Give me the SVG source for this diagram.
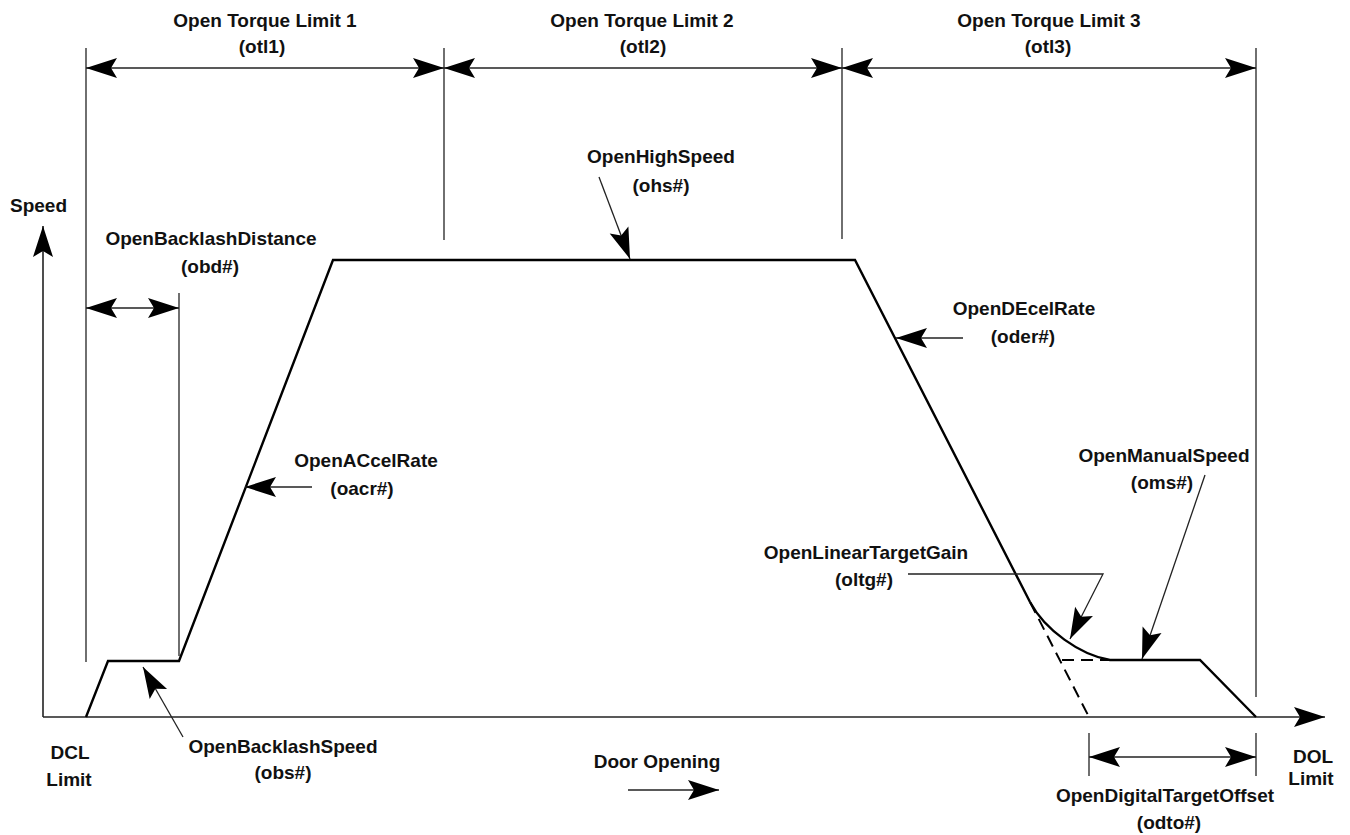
<svg xmlns="http://www.w3.org/2000/svg" width="1350" height="835" viewBox="0 0 1350 835">
<style>
  text { font-family: "Liberation Sans", Arial, sans-serif; font-weight: bold; font-size: 19px; fill: #111; text-anchor: middle; }
  .thin { stroke: #222; stroke-width: 1.3; fill: none; }
  .axis { stroke: #222; stroke-width: 1.6; fill: none; }
  .profile { stroke: #000; stroke-width: 2.4; fill: none; stroke-linejoin: miter; }
  .dash { stroke: #000; stroke-width: 2; fill: none; stroke-dasharray: 12 7; }
  .arr { marker-end: url(#ah); }
  .dim { marker-start: url(#ah); marker-end: url(#ah); }
</style>
<defs>
  <marker id="ah" viewBox="-34 -12 36 24" refX="0" refY="0" markerWidth="36" markerHeight="24" markerUnits="userSpaceOnUse" orient="auto-start-reverse" overflow="visible">
    <path d="M0,0 L-31,-10 L-25,0 L-31,10 Z" fill="#000"/>
  </marker>
</defs>

<g id="axes">
  <line class="axis arr" x1="43" y1="717" x2="43" y2="226"/>
  <line class="axis arr" x1="43" y1="717" x2="1325" y2="717"/>
  <text x="10" y="212" style="text-anchor:start">Speed</text>
  <text x="70" y="759">DCL</text>
  <text x="69" y="786">Limit</text>
  <text x="1313" y="763">DOL</text>
  <text x="1311" y="785">Limit</text>
</g>

<g id="extension-lines">
  <line class="thin" x1="86" y1="48" x2="86" y2="662"/>
  <line class="thin" x1="444" y1="48" x2="444" y2="240"/>
  <line class="thin" x1="842" y1="48" x2="842" y2="239"/>
  <line class="thin" x1="1256" y1="48" x2="1256" y2="697"/>
  <line class="thin" x1="179" y1="293" x2="179" y2="656"/>
  <line class="thin" x1="1089" y1="733" x2="1089" y2="776"/>
  <line class="thin" x1="1256" y1="733" x2="1256" y2="776"/>
</g>

<g id="profile">
  <polyline class="profile" points="86,717 108,661 179,661 333,260 855,260 1030,602"/>
  <path class="profile" d="M1030,602 C1045,630 1080,655 1110,660 L1200,660 L1256,717"/>
  <line class="dash" x1="1030" y1="602" x2="1089" y2="717"/>
  <line class="dash" x1="1062" y1="660" x2="1110" y2="660"/>
</g>

<g id="otl1">
  <text x="265" y="27">Open Torque Limit 1</text>
  <text x="262" y="53">(otl1)</text>
</g>
<g id="otl2">
  <text x="642" y="27">Open Torque Limit 2</text>
  <text x="643" y="53">(otl2)</text>
</g>
<g id="otl3">
  <text x="1049" y="27">Open Torque Limit 3</text>
  <text x="1048" y="53">(otl3)</text>
</g>
<g id="obd">
  <text x="211" y="245">OpenBacklashDistance</text>
  <text x="210" y="273">(obd#)</text>
</g>
<g id="obs">
  <text x="283" y="753">OpenBacklashSpeed</text>
  <text x="283" y="779">(obs#)</text>
</g>
<g id="oacr">
  <text x="366" y="467">OpenACcelRate</text>
  <text x="362" y="495">(oacr#)</text>
</g>
<g id="ohs">
  <text x="661" y="163">OpenHighSpeed</text>
  <text x="661" y="192">(ohs#)</text>
</g>
<g id="oder">
  <text x="1024" y="315">OpenDEcelRate</text>
  <text x="1023" y="343">(oder#)</text>
</g>
<g id="oms">
  <text x="1164" y="462">OpenManualSpeed</text>
  <text x="1162" y="489">(oms#)</text>
</g>
<g id="oltg">
  <text x="866" y="559">OpenLinearTargetGain</text>
  <text x="864" y="586">(oltg#)</text>
</g>
<g id="odto">
  <text x="1165" y="802">OpenDigitalTargetOffset</text>
  <text x="1169" y="829">(odto#)</text>
</g>
<g id="door">
  <text x="657" y="768">Door Opening</text>
</g>

<g id="connectors">
  <line class="thin dim" x1="86" y1="68" x2="444" y2="68"/>
  <line class="thin dim" x1="444" y1="68" x2="842" y2="68"/>
  <line class="thin dim" x1="842" y1="68" x2="1256" y2="68"/>
  <line class="thin dim" x1="86" y1="308" x2="179" y2="308"/>
  <line class="thin dim" x1="1089" y1="757" x2="1256" y2="757"/>
  <line class="thin arr" x1="183" y1="737" x2="143" y2="667"/>
  <line class="thin arr" x1="312" y1="487" x2="245" y2="487"/>
  <line class="thin arr" x1="599" y1="177" x2="630" y2="259"/>
  <line class="thin arr" x1="963" y1="338" x2="896" y2="338"/>
  <line class="thin arr" x1="1205" y1="475" x2="1142" y2="659"/>
  <polyline class="thin arr" points="908,574 1103,574 1070,639"/>
  <line class="thin arr" x1="628" y1="790" x2="719" y2="790"/>
</g>
</svg>
